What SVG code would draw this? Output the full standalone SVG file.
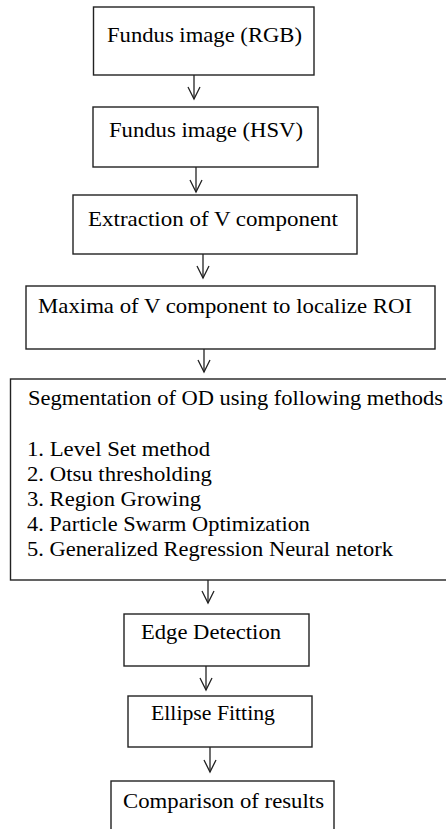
<svg xmlns="http://www.w3.org/2000/svg" width="446" height="829" viewBox="0 0 446 829">
<style>
.box{fill:#fff;stroke:#222;stroke-width:1.4}
.t{font-family:'Liberation Serif','Times New Roman',serif;font-size:22px;fill:#000}
.c{fill:none;stroke:#222;stroke-width:1.3}
</style>
<defs>
<marker id="ah" markerUnits="userSpaceOnUse" markerWidth="16" markerHeight="16" refX="13" refY="8" orient="auto" viewBox="0 0 16 16">
<path d="M1,2 L13,8 L1,14" fill="none" stroke="#222" stroke-width="1.3"/>
</marker>
</defs>
<rect width="446" height="829" fill="#fff"/>
<g id="n1"><rect class="box" x="93.5" y="7" width="220.5" height="68"/><text class="t" x="107" y="42" textLength="195" lengthAdjust="spacingAndGlyphs">Fundus image (RGB)</text></g>
<g id="n2"><rect class="box" x="93" y="107" width="225" height="60"/><text class="t" x="109" y="137" textLength="194" lengthAdjust="spacingAndGlyphs">Fundus image (HSV)</text></g>
<g id="n3"><rect class="box" x="73" y="195" width="284" height="59"/><text class="t" x="88" y="226" textLength="250" lengthAdjust="spacingAndGlyphs">Extraction of V component</text></g>
<g id="n4"><rect class="box" x="26" y="286" width="409" height="63"/><text class="t" x="38" y="313" textLength="374" lengthAdjust="spacingAndGlyphs">Maxima of V component to localize ROI</text></g>
<g id="n5"><rect class="box" x="10.5" y="379" width="440" height="201"/>
<text class="t" x="28" y="405" textLength="415" lengthAdjust="spacingAndGlyphs">Segmentation of OD using following methods</text>
<text class="t" x="27" y="456" textLength="183" lengthAdjust="spacingAndGlyphs">1. Level Set method</text>
<text class="t" x="27" y="481" textLength="185" lengthAdjust="spacingAndGlyphs">2. Otsu thresholding</text>
<text class="t" x="27" y="506" textLength="174" lengthAdjust="spacingAndGlyphs">3. Region Growing</text>
<text class="t" x="27" y="531" textLength="283" lengthAdjust="spacingAndGlyphs">4. Particle Swarm Optimization</text>
<text class="t" x="27" y="556" textLength="366" lengthAdjust="spacingAndGlyphs">5. Generalized Regression Neural netork</text>
</g>
<g id="n6"><rect class="box" x="124" y="614" width="185" height="52"/><text class="t" x="141" y="639" textLength="140" lengthAdjust="spacingAndGlyphs">Edge Detection</text></g>
<g id="n7"><rect class="box" x="128" y="696" width="184" height="51"/><text class="t" x="151" y="720" textLength="124" lengthAdjust="spacingAndGlyphs">Ellipse Fitting</text></g>
<g id="n8"><rect class="box" x="111" y="781" width="223" height="60"/><text class="t" x="123" y="808" textLength="201" lengthAdjust="spacingAndGlyphs">Comparison of results</text></g>
<g id="connectors">
<line class="c" x1="194" y1="75" x2="194" y2="99" marker-end="url(#ah)"/>
<line class="c" x1="196" y1="167" x2="196" y2="192" marker-end="url(#ah)"/>
<line class="c" x1="203" y1="254" x2="203" y2="278" marker-end="url(#ah)"/>
<line class="c" x1="204" y1="349" x2="204" y2="372" marker-end="url(#ah)"/>
<line class="c" x1="208" y1="580" x2="208" y2="603" marker-end="url(#ah)"/>
<line class="c" x1="206" y1="666" x2="206" y2="690" marker-end="url(#ah)"/>
<line class="c" x1="210" y1="747" x2="210" y2="772" marker-end="url(#ah)"/>
</g>
</svg>
